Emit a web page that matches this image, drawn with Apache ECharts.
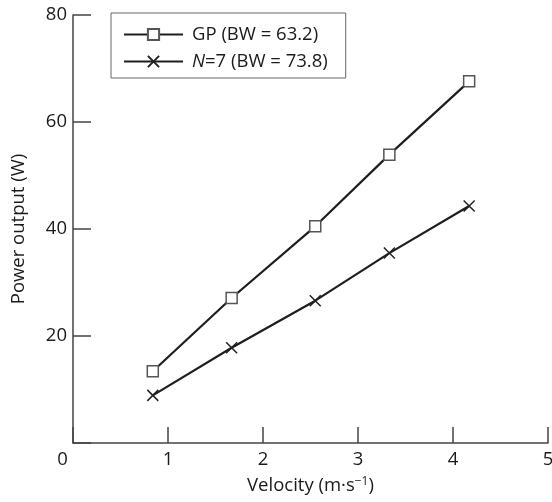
<!DOCTYPE html>
<html>
<head>
<meta charset="utf-8">
<script src="https://cdn.jsdelivr.net/npm/echarts@6/dist/echarts.min.js"></script>
<style>html,body{margin:0;padding:0;background:#fff}#c{width:552px;height:502px}</style>
</head>
<body>
<div id="c"></div>
<script>
const velocity = [0.84, 1.67, 2.55, 3.33, 4.17];
const gpPower = [13.4, 27.1, 40.5, 53.9, 67.6];
const n7Power = [8.9, 17.8, 26.6, 35.5, 44.3];
const seriesNames = ['GP (BW = 63.2)', 'N=7 (BW = 73.8)'];
const xTicks = [0, 1, 2, 3, 4, 5];
const yTicks = [0, 20, 40, 60, 80];

const FONT = 'Open Sans';
const FS = 18.5;
const AX = '#444';
const TXT = '#1a1a1a';

const chart = echarts.init(document.getElementById('c'));
chart.setOption({
  animation: false,
  backgroundColor: '#fff',
  textStyle: { fontFamily: FONT, color: TXT },
  grid: { left: 73, right: 4, top: 15, bottom: 59, outerBoundsMode: 'none' },
  legend: {
    data: seriesNames,
    orient: 'vertical',
    left: 111, top: 13,
    padding: [12, 18, 7, 12],
    itemWidth: 59, itemHeight: 14, itemGap: 8,
    borderColor: '#666', borderWidth: 1,
    backgroundColor: '#fff',
    textStyle: { fontFamily: FONT, fontSize: FS, color: TXT,
      rich: {
        t: { fontFamily: FONT, fontSize: FS, color: TXT, padding: [0, 0, 0, 4] },
        i: { fontStyle: 'italic', fontFamily: FONT, fontSize: FS, color: TXT, padding: [0, 0, 0, 4] },
        r: { fontFamily: FONT, fontSize: FS, color: TXT }
      } },
    formatter: n => /^N/.test(n) ? '{i|N}{r|' + n.slice(1) + '}' : '{t|' + n + '}'
  },
  xAxis: {
    type: 'value', min: xTicks[0], max: xTicks[xTicks.length - 1], interval: 1,
    name: '{a|Velocity (m\u00b7s}{s|\u22121}{a|)}',
    nameLocation: 'middle', nameGap: 33,
    nameTextStyle: { rich: {
      a: { fontFamily: FONT, fontSize: FS, color: TXT },
      s: { fontFamily: FONT, fontSize: 12, color: TXT, verticalAlign: 'top' } } },
    axisLine: { show: true, onZero: false, lineStyle: { color: AX, width: 1.5 } },
    axisTick: { show: true, inside: true, length: 16, lineStyle: { color: AX, width: 1.5 } },
    axisLabel: { fontFamily: FONT, fontSize: FS, color: TXT, margin: 7,
      formatter: v => v === 0 ? '{z|0}' : String(v),
      rich: { z: { fontFamily: FONT, fontSize: FS, color: TXT, padding: [0, 21, 0, 0] } } },
    splitLine: { show: false }
  },
  yAxis: {
    type: 'value', min: yTicks[0], max: yTicks[yTicks.length - 1], interval: 20,
    name: 'Power output (W)', nameLocation: 'middle', nameGap: 45,
    nameTextStyle: { fontFamily: FONT, fontSize: FS, color: TXT },
    axisLine: { show: true, onZero: false, lineStyle: { color: AX, width: 1.5 } },
    axisTick: { show: true, inside: true, length: 18, lineStyle: { color: AX, width: 1.5 } },
    axisLabel: { fontFamily: FONT, fontSize: FS, color: TXT, margin: 6,
      formatter: v => v === 0 ? '' : String(v) },
    splitLine: { show: false }
  },
  series: [
    {
      name: seriesNames[0], type: 'line',
      data: velocity.map((v, i) => [v, gpPower[i]]),
      symbol: 'rect', symbolSize: 11,
      lineStyle: { color: '#1e1e1e', width: 2.2 },
      itemStyle: { color: '#fff', borderColor: '#555', borderWidth: 1.5 },
      z: 3
    },
    {
      name: seriesNames[1], type: 'line',
      data: velocity.map((v, i) => [v, n7Power[i]]),
      symbol: 'path://M0,0L10,10M10,0L0,10', symbolSize: 11,
      lineStyle: { color: '#1e1e1e', width: 2.2 },
      itemStyle: { color: 'none', borderColor: '#222', borderWidth: 1.5 },
      z: 3
    }
  ]
});
</script>
</body>
</html>
